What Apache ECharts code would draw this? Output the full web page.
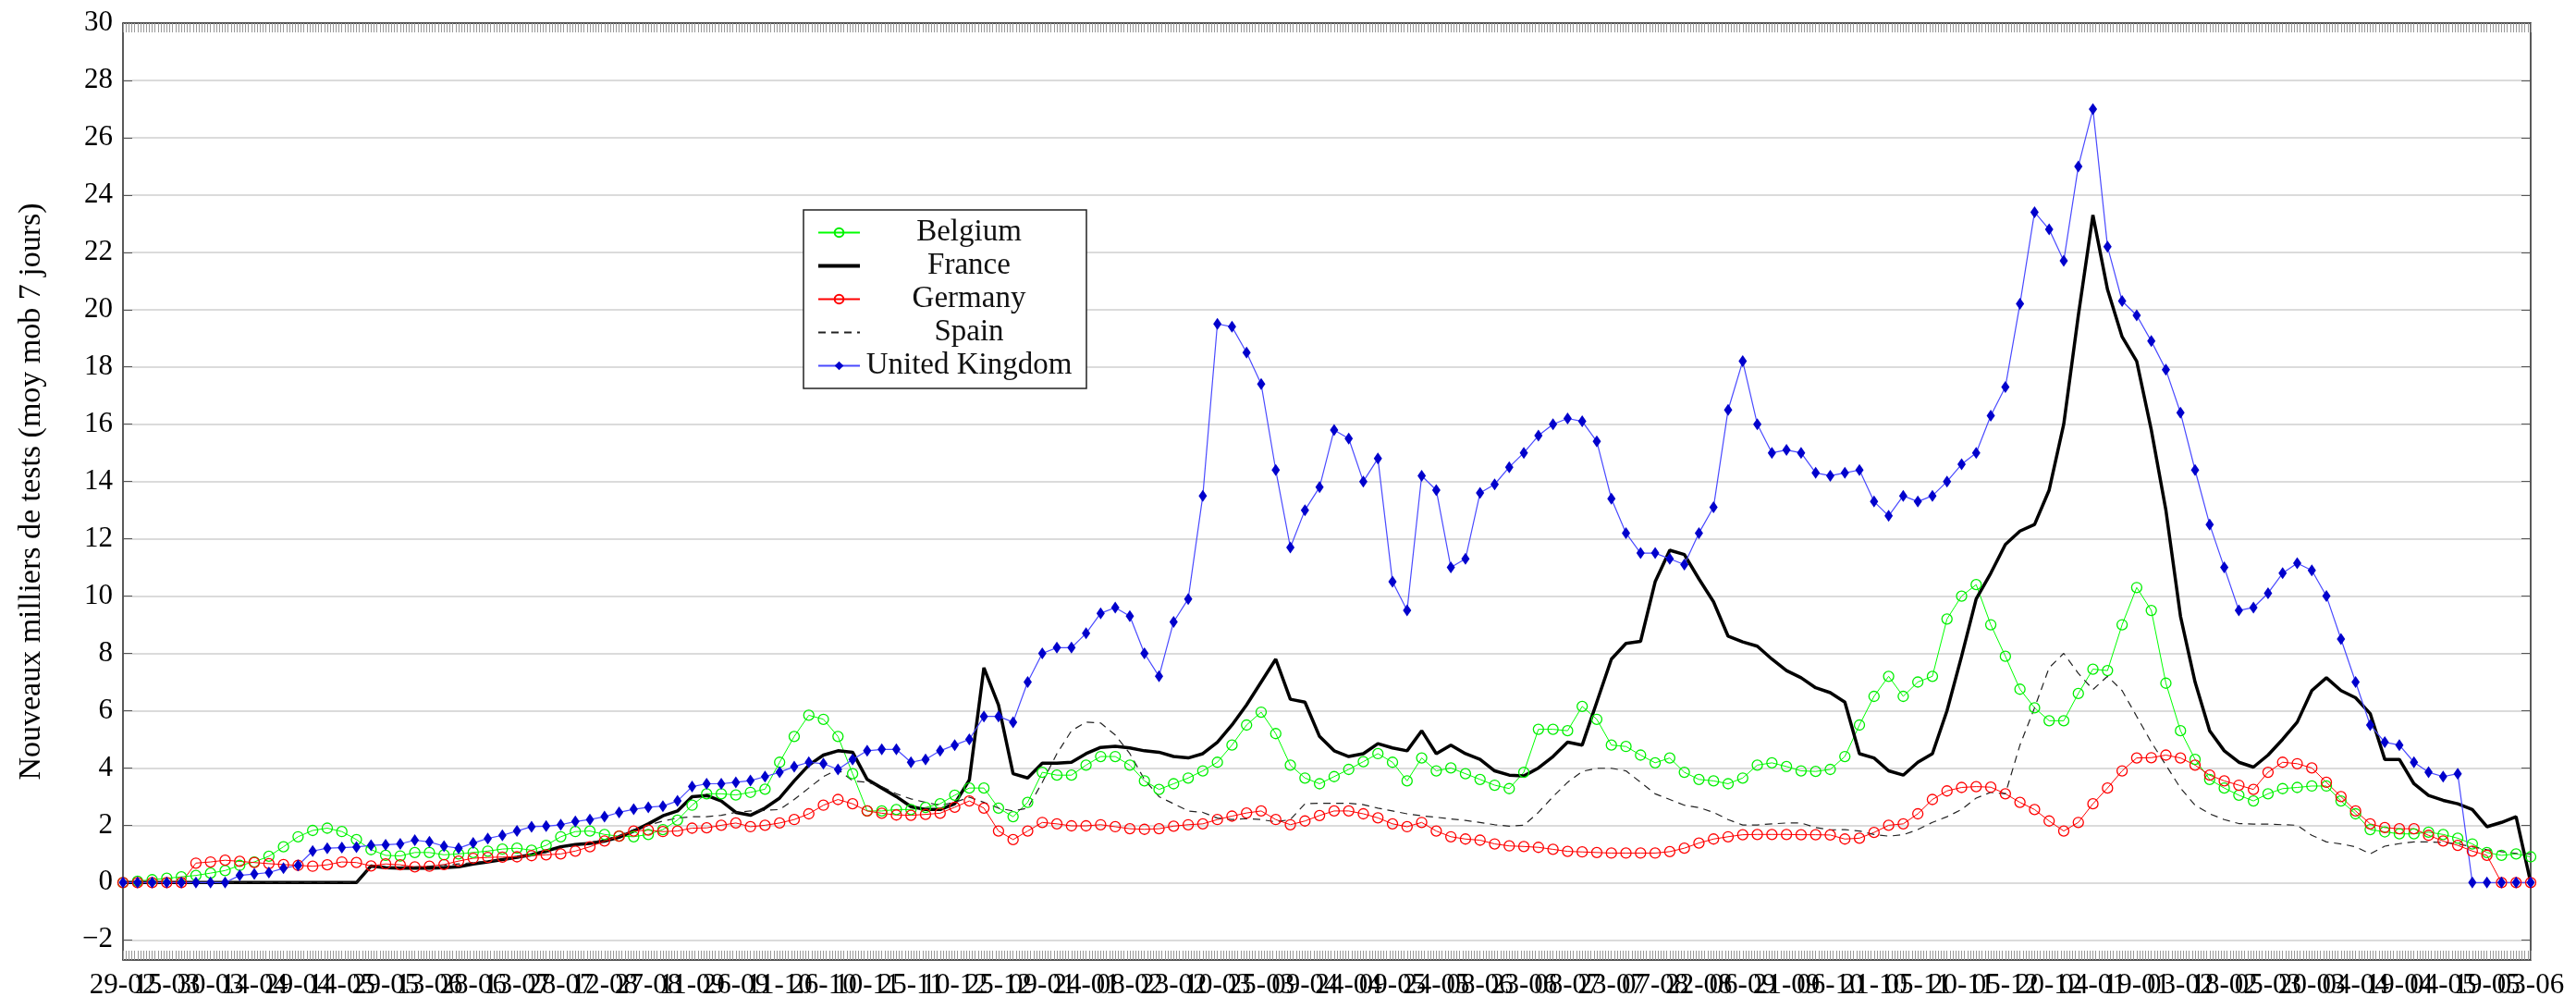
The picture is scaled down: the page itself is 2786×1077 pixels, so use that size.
<!DOCTYPE html>
<html>
<head>
<meta charset="utf-8">
<title>Nouveaux milliers de tests</title>
<script src="https://cdn.jsdelivr.net/npm/echarts@6.0.0/dist/echarts.min.js"></script>
<style>
  html, body { margin: 0; padding: 0; background: #fff; }
  #main { width: 2786px; height: 1077px; }
</style>
</head>
<body>
<div id="main"></div>
<script>
// une valeur tous les 5 jours, du 29-02-2020 au 03-06-2022 (826 jours)
var STEP = 5;
var NB_JOURS = 826;

// une etiquette tous les 15 jours
var tickLabels = ["29-02","15-03","30-03","14-04","29-04","14-05","29-05","13-06","28-06","13-07",
  "28-07","12-08","27-08","11-09","26-09","11-10","26-10","10-11","25-11","10-12",
  "25-12","09-01","24-01","08-02","23-02","10-03","25-03","09-04","24-04","09-05",
  "24-05","08-06","23-06","08-07","23-07","07-08","22-08","06-09","21-09","06-10",
  "21-10","05-11","20-11","05-12","20-12","04-01","19-01","03-02","18-02","05-03",
  "20-03","04-04","19-04","04-05","19-05","03-06"];

var belgium = [0,0.05,0.1,0.15,0.2,0.25,0.33,0.42,0.6,0.72,0.92,1.25,
  1.6,1.82,1.9,1.78,1.5,1.15,0.95,0.93,1.05,1.05,0.97,1.0,
  1.05,1.1,1.17,1.2,1.13,1.3,1.6,1.78,1.8,1.68,1.62,1.6,
  1.68,1.85,2.18,2.7,3.1,3.1,3.06,3.15,3.26,4.2,5.1,5.84,
  5.7,5.1,3.8,2.5,2.5,2.55,2.55,2.62,2.75,3.05,3.3,3.3,
  2.6,2.3,2.8,3.85,3.75,3.75,4.1,4.4,4.4,4.1,3.55,3.25,
  3.45,3.65,3.9,4.2,4.8,5.5,5.95,5.2,4.1,3.65,3.45,3.7,
  3.95,4.22,4.5,4.2,3.55,4.35,3.9,4.0,3.8,3.6,3.4,3.28,
  3.85,5.35,5.35,5.3,6.15,5.7,4.8,4.75,4.45,4.18,4.35,3.85,
  3.6,3.55,3.45,3.65,4.1,4.18,4.05,3.9,3.88,3.95,4.4,5.5,
  6.5,7.2,6.5,7.0,7.2,9.2,10.0,10.4,9.0,7.9,6.75,6.1,
  5.65,5.65,6.6,7.45,7.4,9.0,10.3,9.5,6.96,5.3,4.3,3.6,
  3.3,3.05,2.85,3.1,3.28,3.32,3.37,3.37,2.85,2.4,1.85,1.77,
  1.7,1.7,1.76,1.68,1.55,1.35,1.05,0.95,1.0,0.9];

var france = [0,0,0,0,0,0,0,0,0,0,0,0,0,0,0,0,
  0,0.58,0.52,0.5,0.5,0.5,0.52,0.55,0.65,0.72,0.8,0.88,
  0.97,1.1,1.25,1.33,1.37,1.45,1.58,1.8,2.05,2.33,2.5,3.0,
  3.04,2.85,2.45,2.35,2.6,2.95,3.55,4.1,4.45,4.6,4.55,3.6,
  3.3,3.0,2.65,2.55,2.55,2.75,3.58,7.5,6.2,3.8,3.65,4.17,
  4.17,4.2,4.5,4.72,4.76,4.7,4.6,4.55,4.4,4.35,4.5,4.9,
  5.5,6.2,7.0,7.8,6.4,6.3,5.1,4.6,4.4,4.5,4.85,4.7,
  4.6,5.3,4.5,4.8,4.5,4.3,3.9,3.75,3.72,4.0,4.4,4.9,
  4.8,6.3,7.8,8.35,8.42,10.5,11.6,11.45,10.6,9.8,8.6,8.4,
  8.25,7.8,7.4,7.15,6.8,6.63,6.3,4.5,4.35,3.9,3.75,4.2,
  4.5,6.0,7.9,9.9,10.8,11.8,12.27,12.5,13.7,16.0,19.8,23.3,
  20.7,19.05,18.2,15.8,13.0,9.3,7.0,5.3,4.6,4.2,4.03,4.45,
  5.0,5.6,6.7,7.15,6.7,6.45,5.9,4.3,4.3,3.45,3.04,2.87,
  2.75,2.55,1.95,2.1,2.3,0];

var germany = [0,0,0,0,0,
  0.68,0.72,0.78,0.74,0.7,0.66,0.63,0.6,0.57,0.62,0.72,0.7,
  0.58,0.65,0.62,0.55,0.57,0.63,0.75,0.85,0.88,0.89,0.9,0.94,
  0.97,1.0,1.1,1.25,1.45,1.62,1.8,1.83,1.78,1.8,1.9,1.91,
  2.0,2.08,1.95,2.0,2.08,2.2,2.4,2.7,2.9,2.75,2.5,2.42,
  2.36,2.35,2.38,2.42,2.63,2.85,2.6,1.8,1.5,1.8,2.1,2.05,
  1.98,1.98,2.02,1.95,1.88,1.86,1.88,1.97,2.02,2.05,2.2,2.32,
  2.43,2.5,2.2,2.02,2.15,2.34,2.5,2.5,2.4,2.26,2.05,1.95,
  2.1,1.8,1.6,1.52,1.48,1.35,1.28,1.26,1.23,1.16,1.09,1.07,
  1.05,1.03,1.03,1.03,1.03,1.08,1.2,1.38,1.52,1.6,1.67,1.68,
  1.68,1.68,1.67,1.67,1.66,1.52,1.55,1.75,2.0,2.05,2.4,2.9,
  3.2,3.32,3.35,3.33,3.1,2.8,2.55,2.15,1.8,2.1,2.75,3.3,
  3.9,4.35,4.36,4.45,4.35,4.1,3.75,3.55,3.4,3.25,3.85,4.2,
  4.15,4.0,3.5,3.0,2.5,2.05,1.92,1.88,1.88,1.65,1.45,1.3,
  1.1,0.95,0,0,0];

var spain = [0,0,0,0,0,0,0,0,0,0,0,0,0,0,0,0,0,
  0.55,0.55,0.55,0.55,0.57,0.6,0.65,0.7,0.75,0.8,0.85,0.95,
  1.05,1.2,1.3,1.4,1.5,1.65,1.85,2.0,2.15,2.25,2.3,2.3,
  2.35,2.45,2.5,2.52,2.55,2.9,3.3,3.7,3.95,3.55,3.5,3.35,
  3.1,2.92,2.8,2.7,2.8,2.98,2.8,2.6,2.5,2.6,3.5,4.5,
  5.3,5.6,5.57,5.15,4.5,3.6,3.0,2.75,2.5,2.45,2.25,2.2,
  2.23,2.2,2.12,2.2,2.75,2.77,2.77,2.77,2.72,2.6,2.5,2.4,
  2.33,2.28,2.22,2.17,2.1,2.02,1.97,2.0,2.45,3.0,3.5,3.88,
  3.99,3.99,3.9,3.5,3.1,2.9,2.7,2.62,2.45,2.2,2.01,2.01,
  2.05,2.08,2.08,1.92,1.84,1.85,1.8,1.68,1.62,1.67,1.85,2.1,
  2.3,2.55,2.95,3.15,3.1,4.8,6.1,7.5,8.0,7.3,6.74,7.2,
  6.7,5.8,4.9,4.1,3.3,2.7,2.4,2.2,2.06,2.04,2.04,2.02,
  2.0,1.65,1.42,1.35,1.25,1.0,1.27,1.36,1.42,1.42,1.4,1.35,
  1.25,1.15,1.08,1.02,1.0];

var unitedKingdom = [0,0,0,0,0,0,0,0,
  0.25,0.3,0.35,0.5,0.6,1.1,1.2,1.22,1.24,1.3,1.32,1.35,
  1.48,1.42,1.27,1.2,1.38,1.54,1.65,1.8,1.95,1.97,2.02,2.13,
  2.2,2.3,2.45,2.56,2.63,2.67,2.85,3.35,3.45,3.45,3.5,3.56,
  3.7,3.85,4.05,4.2,4.15,3.95,4.3,4.6,4.65,4.65,4.2,4.3,
  4.6,4.8,5.0,5.8,5.8,5.6,7.0,8.0,8.2,8.2,8.7,9.4,
  9.6,9.3,8.0,7.2,9.1,9.9,13.5,19.5,19.4,18.5,17.4,14.4,
  11.7,13.0,13.8,15.8,15.5,14.0,14.8,10.5,9.5,14.2,13.7,11.0,
  11.3,13.6,13.9,14.5,15.0,15.6,16.0,16.2,16.1,15.4,13.4,12.2,
  11.5,11.5,11.3,11.1,12.2,13.1,16.5,18.2,16.0,15.0,15.1,15.0,
  14.3,14.2,14.3,14.4,13.3,12.8,13.5,13.3,13.5,14.0,14.6,15.0,
  16.3,17.3,20.2,23.4,22.8,21.7,25.0,27.0,22.2,20.3,19.8,18.9,
  17.9,16.4,14.4,12.5,11.0,9.5,9.6,10.1,10.8,11.15,10.9,10.0,
  8.5,7.0,5.5,4.9,4.8,4.2,3.85,3.7,3.8,0,0,0,
  0,0];

var SERIF = "'Liberation Serif', 'DejaVu Serif', serif";
var Y_MIN = -2.7, Y_MAX = 30;

var jours = [];
for (var i = 0; i < NB_JOURS; i++) jours.push(String(i));

// [indice du jour, valeur]
function pts(vals) {
  return vals.map(function (v, k) { return [k * STEP, v]; });
}

function yLabel(v) {
  if (Math.abs(v - Math.round(v)) > 1e-6) return '';
  return v < 0 ? '\u2212' + (-v) : String(v);
}

function xLabel(v, idx) {
  return idx % 15 === 0 ? tickLabels[idx / 15] : '';
}

var chart = echarts.init(document.getElementById('main'), null, { renderer: 'canvas' });

var xTicks = { show: true, interval: 0, inside: true, length: 10, lineStyle: { color: '#999', width: 1 } };
var xLabelStyle = { margin: 12, hideOverlap: false, color: '#000', fontSize: 31, fontFamily: SERIF, formatter: xLabel };

// deux axes du bas: etiquettes paires et impaires, pour qu'echarts les garde toutes (elles se chevauchent)
chart.setOption({
  animation: false,
  backgroundColor: '#fff',
  grid: { left: 133, right: 49, top: 25, bottom: 39, outerBoundsMode: 'none' },
  legend: {
    orient: 'vertical',
    left: 869, top: 227,
    padding: [8, 14],
    itemGap: 3,
    itemWidth: 45,
    itemHeight: 12,
    borderColor: '#222',
    borderWidth: 1.5,
    borderRadius: 0,
    backgroundColor: '#fff',
    formatter: function (n) { return '{c|' + n + '}'; },
    textStyle: {
      rich: { c: { width: 226, align: 'center', fontSize: 33, lineHeight: 34, fontFamily: SERIF, color: '#111' } }
    },
    data: [
      'Belgium',
      { name: 'France', lineStyle: { width: 4 }, itemStyle: { opacity: 0 } },
      'Germany',
      { name: 'Spain', itemStyle: { opacity: 0 } },
      'United Kingdom'
    ]
  },
  xAxis: [{
    type: 'category',
    data: jours,
    boundaryGap: false,
    axisLine: { onZero: false, lineStyle: { color: '#222', width: 1.5 } },
    axisTick: xTicks,
    axisLabel: Object.assign({ interval: function (idx) { return idx % 30 === 0; } }, xLabelStyle),
    splitLine: { show: false }
  }, {
    type: 'category',
    data: jours,
    position: 'top',
    boundaryGap: false,
    axisLine: { onZero: false, lineStyle: { color: '#222', width: 1.5 } },
    axisTick: xTicks,
    axisLabel: { show: false },
    splitLine: { show: false }
  }, {
    type: 'category',
    data: jours,
    position: 'bottom',
    boundaryGap: false,
    axisLine: { show: false, onZero: false },
    axisTick: { show: false },
    axisLabel: Object.assign({ interval: function (idx) { return idx % 30 === 15; } }, xLabelStyle),
    splitLine: { show: false }
  }],
  yAxis: [{
    type: 'value',
    min: Y_MIN, max: Y_MAX,
    splitNumber: 16,
    name: 'Nouveaux milliers de tests (moy mob 7 jours)',
    nameLocation: 'middle',
    nameGap: 82,
    nameTextStyle: { fontSize: 34, fontFamily: SERIF, color: '#000' },
    axisLine: { show: true, onZero: false, lineStyle: { color: '#222', width: 1.5 } },
    axisTick: { show: true, inside: true, length: 10, lineStyle: { color: '#555' } },
    axisLabel: { color: '#000', fontSize: 31, fontFamily: SERIF, margin: 11, formatter: yLabel },
    splitLine: { show: true, lineStyle: { color: '#cfcfcf', width: 1.5 } }
  }, {
    type: 'value',
    position: 'right',
    min: Y_MIN, max: Y_MAX,
    splitNumber: 16,
    axisLine: { show: true, onZero: false, lineStyle: { color: '#222', width: 1.5 } },
    axisTick: { show: true, inside: true, length: 10, lineStyle: { color: '#555' } },
    axisLabel: { show: false },
    splitLine: { show: false }
  }],
  series: [{
    name: 'Belgium', type: 'line', data: pts(belgium),
    symbol: 'circle', symbolSize: 11, showAllSymbol: true,
    lineStyle: { color: '#00ff00', width: 1 },
    itemStyle: { color: 'rgba(255,255,255,0)', borderColor: '#00ee00', borderWidth: 1.3 }
  }, {
    name: 'France', type: 'line', data: pts(france),
    symbol: 'none',
    lineStyle: { color: '#000', width: 3.5 },
    itemStyle: { color: '#000' }
  }, {
    name: 'Germany', type: 'line', data: pts(germany),
    symbol: 'circle', symbolSize: 11, showAllSymbol: true,
    lineStyle: { color: '#ff0000', width: 1 },
    itemStyle: { color: 'rgba(255,255,255,0)', borderColor: '#ff0000', borderWidth: 1.3 }
  }, {
    name: 'Spain', type: 'line', data: pts(spain),
    symbol: 'none',
    lineStyle: { color: '#222', width: 1.2, type: [8, 6] },
    itemStyle: { color: '#222' }
  }, {
    name: 'United Kingdom', type: 'line', data: pts(unitedKingdom),
    symbol: 'diamond', symbolSize: [9, 13], showAllSymbol: true,
    lineStyle: { color: '#4a4aff', width: 1.2 },
    itemStyle: { color: '#0000cc' }
  }]
});
</script>
</body>
</html>
